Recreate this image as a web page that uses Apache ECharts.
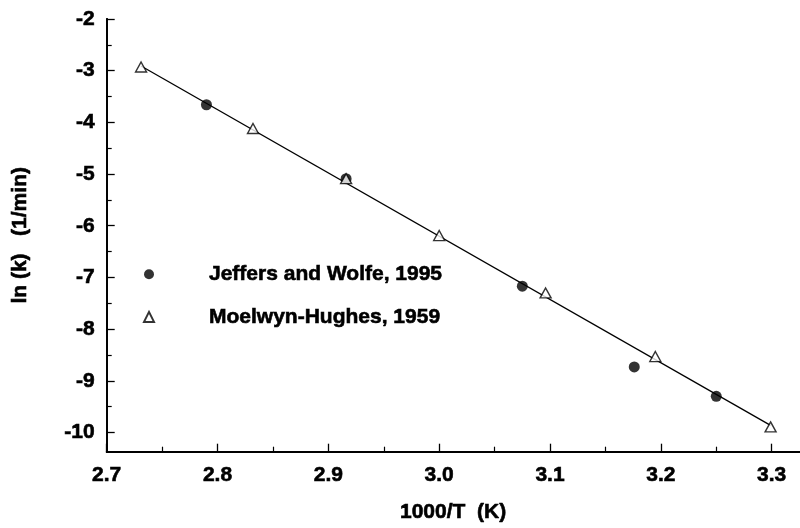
<!DOCTYPE html>
<html>
<head>
<meta charset="utf-8">
<script src="https://cdn.jsdelivr.net/npm/echarts@6/dist/echarts.min.js"></script>
<style>
  html, body { margin: 0; padding: 0; background: #ffffff; }
  #chart { width: 800px; height: 528px; }
</style>
</head>
<body>
<div id="chart"></div>
<script>
// Arrhenius plot: 1000/T (1/K) against ln(k), k in 1/min
const jeffersX = [2.790, 2.916, 3.075, 3.176, 3.250];
const jeffersY = [-3.66, -5.09, -7.17, -8.73, -9.30];

const moelwynX = [2.731, 2.832, 2.916, 3.000, 3.096, 3.195, 3.299];
const moelwynY = [-2.93, -4.12, -5.09, -6.19, -7.30, -8.53, -9.89];

// fitted straight line, end points
const fitX = [2.731, 3.299];
const fitY = [-2.91, -9.86];

const xMajorTicks = [2.7, 2.8, 2.9, 3.0, 3.1, 3.2, 3.3];
const xMinorTicks = [2.75, 2.85, 2.95, 3.05, 3.15, 3.25];
const yMajorTicks = [-10, -9, -8, -7, -6, -5, -4, -3, -2];
const yMinorTicks = [-9.5, -8.5, -7.5, -6.5, -5.5, -4.5, -3.5, -2.5];

const seriesNames = ['Jeffers and Wolfe, 1995', 'Moelwyn-Hughes, 1959'];
const xTitle = '1000/T  (K)';
const yTitle = 'ln (k)   (1/min)';

const X_MIN = 2.7, X_MAX = 3.325;
const Y_MIN = -10.37, Y_MAX = -2;

const FONT = "'Liberation Sans', Arial, Helvetica, sans-serif";
const INK = '#000000';

const zip = (xs, ys) => xs.map((x, i) => [x, ys[i]]);

// heavy sans text: bold face plus a thin outline in the same ink
const labelStyle = {
  fontFamily: FONT, fontWeight: 'bold', fontSize: 21, color: INK,
  textBorderColor: INK, textBorderWidth: 0.6
};

function baseAxis(extra) {
  return Object.assign({
    type: 'value',
    splitLine: { show: false },
    axisLine: { show: true, onZero: false, lineStyle: { color: INK, width: 1.8 } }
  }, extra);
}

const chart = echarts.init(document.getElementById('chart'), null, { renderer: 'canvas' });

chart.setOption({
  animation: false,
  backgroundColor: '#ffffff',
  grid: { left: 106.7, right: 0.6, top: 18.9, bottom: 67.3, containLabel: false },
  xAxis: [
    baseAxis({
      position: 'bottom',
      min: X_MIN, max: X_MAX,
      name: xTitle,
      nameLocation: 'middle',
      nameGap: 50,
      nameTextStyle: labelStyle,
      axisTick: { show: true, inside: true, length: 8, customValues: xMajorTicks,
                  lineStyle: { color: INK, width: 1.3 } },
      axisLabel: { show: true, margin: 13, customValues: xMajorTicks,
                   formatter: v => v.toFixed(1), ...labelStyle }
    }),
    baseAxis({
      position: 'bottom',
      min: X_MIN, max: X_MAX,
      axisTick: { show: true, inside: true, length: 5, customValues: xMinorTicks,
                  lineStyle: { color: INK, width: 1.2 } },
      axisLabel: { show: false }
    })
  ],
  yAxis: [
    baseAxis({
      position: 'left',
      min: Y_MIN, max: Y_MAX,
      name: yTitle,
      nameLocation: 'middle',
      nameGap: 76,
      nameRotate: 90,
      nameTextStyle: labelStyle,
      axisTick: { show: true, inside: true, length: 8, customValues: yMajorTicks,
                  lineStyle: { color: INK, width: 1.3 } },
      axisLabel: { show: true, margin: 12, customValues: yMajorTicks,
                   formatter: v => String(Math.round(v)), ...labelStyle }
    }),
    baseAxis({
      position: 'left',
      min: Y_MIN, max: Y_MAX,
      axisTick: { show: true, inside: true, length: 5, customValues: yMinorTicks,
                  lineStyle: { color: INK, width: 1.2 } },
      axisLabel: { show: false }
    })
  ],
  legend: {
    data: seriesNames,
    orient: 'vertical',
    left: 138,
    top: 258.5,
    itemWidth: 10,
    itemHeight: 10,
    itemGap: 21,
    selectedMode: false,
    textStyle: Object.assign({}, labelStyle, { lineHeight: 20, padding: [0, 0, 0, 50] })
  },
  series: [
    {
      type: 'line',
      name: 'fit',
      data: zip(fitX, fitY),
      symbol: 'none',
      silent: true,
      lineStyle: { color: INK, width: 1.3 },
      z: 1
    },
    {
      type: 'scatter',
      name: seriesNames[0],
      data: zip(jeffersX, jeffersY),
      symbol: 'circle',
      symbolSize: 11,
      itemStyle: { color: INK },
      z: 2
    },
    {
      type: 'scatter',
      name: seriesNames[1],
      data: zip(moelwynX, moelwynY),
      symbol: 'triangle',
      symbolSize: [11, 10],
      itemStyle: { color: '#ffffff', borderColor: INK, borderWidth: 1.4 },
      z: 3
    }
  ]
});
</script>
</body>
</html>
